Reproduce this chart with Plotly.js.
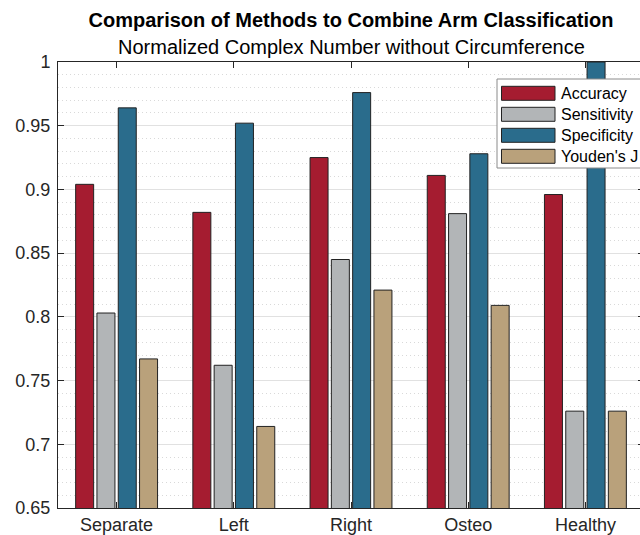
<!DOCTYPE html>
<html>
<head>
<meta charset="utf-8">
<script src="https://cdn.plot.ly/plotly-3.0.1.min.js"></script>
<style>
  html, body { margin: 0; padding: 0; background: #fff; }
  #wrap { width: 640px; height: 535px; overflow: hidden; position: relative; }
  #chart { width: 650px; height: 535px; }
</style>
</head>
<body>
<div id="wrap"><div id="chart"></div></div>
<script>
// ---- Data ----
const categories = ['Separate', 'Left', 'Right', 'Osteo', 'Healthy'];
const seriesNames = ['Accuracy', 'Sensitivity', 'Specificity', "Youden's J"];
const accuracy    = [0.904, 0.882, 0.925, 0.911, 0.896];
const sensitivity = [0.803, 0.762, 0.845, 0.881, 0.726];
const specificity = [0.964, 0.952, 0.976, 0.928, 1.000];
const youdensJ    = [0.767, 0.714, 0.821, 0.809, 0.726];
const yTickVals = [0.65, 0.7, 0.75, 0.8, 0.85, 0.9, 0.95, 1];
const yTickText = ['0.65', '0.7', '0.75', '0.8', '0.85', '0.9', '0.95', '1'];
const titleText = 'Comparison of Methods to Combine Arm Classification';
const subtitleText = 'Normalized Complex Number without Circumference';

// ---- Styles ----
const colors = ['#A51C30', '#B2B5B7', '#2A6C8C', '#B9A17B'];
const font = 'Liberation Sans, Arial, Helvetica, sans-serif';
const W = 650, H = 535;
const M = { l: 58, r: 6, t: 62, b: 27 };
const PW = W - M.l - M.r, PH = H - M.t - M.b;
const px2x = (p) => (p - M.l) / PW;
const px2y = (p) => 1 - (p - M.t) / PH;

const allSeries = [accuracy, sensitivity, specificity, youdensJ];
const traces = allSeries.map((vals, i) => ({
  type: 'bar',
  name: seriesNames[i],
  x: categories,
  y: vals,
  marker: { color: colors[i], line: { color: '#222222', width: 1 } },
  showlegend: false,
  hoverinfo: 'x+y+name'
}));

// Custom MATLAB-style legend (box + wide swatches + labels)
const shapes = [];
const annotations = [];
const legLeft = 497, legTop = 79, legBottom = 168;
shapes.push({
  type: 'rect', xref: 'paper', yref: 'paper',
  x0: px2x(legLeft), x1: px2x(700), y0: px2y(legBottom), y1: px2y(legTop),
  fillcolor: '#ffffff', line: { color: '#8a8a8a', width: 1 }, layer: 'above'
});
seriesNames.forEach((name, i) => {
  const cy = 93.3 + i * 21;
  shapes.push({
    type: 'rect', xref: 'paper', yref: 'paper',
    x0: px2x(501.5), x1: px2x(555), y0: px2y(cy + 7), y1: px2y(cy - 7),
    fillcolor: colors[i], line: { color: '#222222', width: 1 }, layer: 'above'
  });
  annotations.push({
    xref: 'paper', yref: 'paper', x: px2x(559), y: px2y(cy),
    xanchor: 'left', yanchor: 'middle', showarrow: false,
    text: name, font: { family: font, size: 16, color: '#000' }
  });
});
annotations.push({
  xref: 'paper', yref: 'paper', x: 0.5, y: px2y(47),
  xanchor: 'center', yanchor: 'middle', showarrow: false,
  text: subtitleText, font: { family: font, size: 20, color: '#000' }
});

const layout = {
  width: W, height: H,
  margin: M,
  paper_bgcolor: '#fff', plot_bgcolor: '#fff',
  font: { family: font, size: 18, color: '#262626' },
  title: {
    text: '<b>' + titleText + '</b>',
    font: { family: font, size: 20, color: '#000' },
    xref: 'paper', x: 0.5, xanchor: 'center',
    yref: 'container', y: 1 - 20 / H, yanchor: 'middle'
  },
  barmode: 'group',
  bargap: 0.273,
  bargroupgap: 0.155,
  showlegend: false,
  xaxis: {
    type: 'category',
    range: [-0.5, 4.5],
    showline: true, linecolor: '#262626', linewidth: 1,
    mirror: 'ticks',
    ticks: 'inside', ticklen: 6, tickcolor: '#262626',
    showgrid: false, zeroline: false,
    tickfont: { family: font, size: 18, color: '#262626' },
    ticklabelstandoff: 0
  },
  yaxis: {
    range: [0.65, 1],
    tickvals: yTickVals, ticktext: yTickText,
    showline: true, linecolor: '#262626', linewidth: 1,
    mirror: 'ticks',
    ticks: 'inside', ticklen: 6, tickcolor: '#262626',
    showgrid: true, gridcolor: '#e1e1e1', gridwidth: 1,
    zeroline: false,
    minor: { dtick: 0.01, showgrid: true, gridcolor: '#d9d9d9', griddash: '1px,3px', gridwidth: 1, ticks: '' },
    tickfont: { family: font, size: 18, color: '#262626' },
    ticklabelstandoff: 3
  },
  shapes: shapes,
  annotations: annotations
};

Plotly.newPlot('chart', traces, layout, { displayModeBar: false, responsive: false, staticPlot: true });
</script>
</body>
</html>
